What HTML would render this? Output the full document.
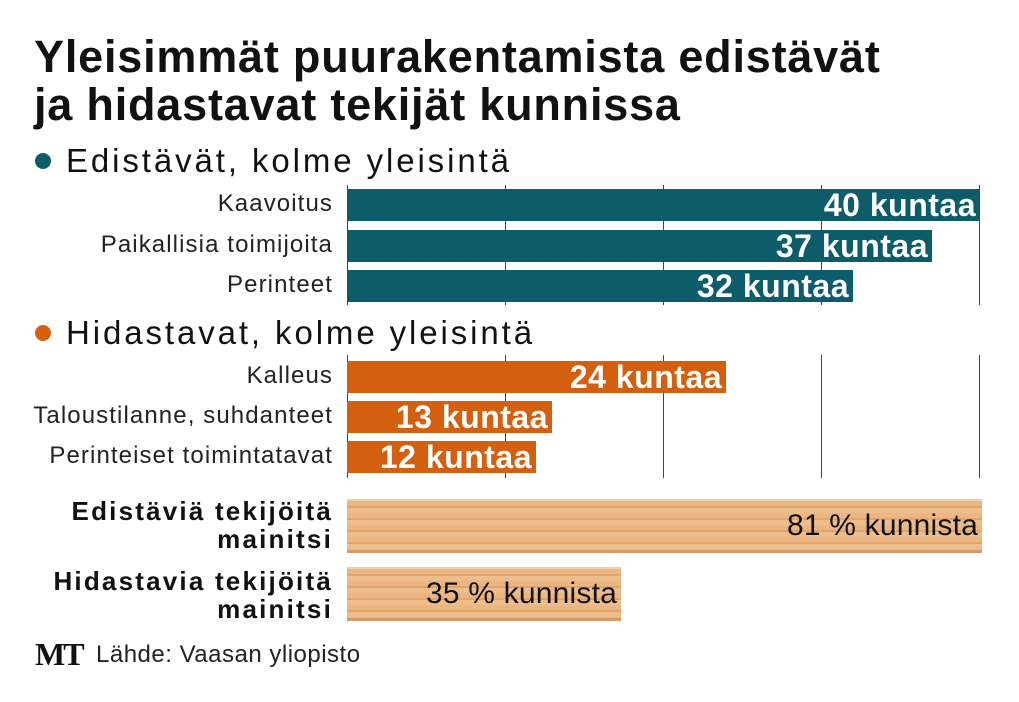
<!DOCTYPE html><html><head><meta charset="utf-8"><style>
body{margin:0;width:1019px;height:702px;background:#fff;font-family:"Liberation Sans",sans-serif;position:relative;overflow:hidden}
.a{position:absolute;white-space:nowrap}
.t{left:34px;font-size:45px;font-weight:bold;color:#111;letter-spacing:0.8px;line-height:50px}
.h{left:66px;font-size:33px;color:#111;letter-spacing:2.9px;line-height:38px}
.dot{position:absolute;width:16px;height:16px;border-radius:50%}
.l{right:686px;font-size:24px;color:#222;text-align:right;letter-spacing:1.1px;line-height:28px}
.bar{position:absolute;left:347px;height:32px}
.v{position:absolute;right:4px;top:-1px;color:#fff;font-weight:bold;font-size:32px;line-height:34px;letter-spacing:0.5px}
.g{position:absolute;width:1px;background:#444}
.wood{position:absolute;left:347px;background:repeating-linear-gradient(180deg,#ebb681 0 5px,#e0a46f 5px 7px,#edbd8c 7px 12px);border-top:2px solid #f1cda6;border-bottom:3px solid #d49a68}
.wl{position:absolute;right:4px;top:8px;font-size:30px;color:#111;letter-spacing:0.2px}
.bl{right:686px;font-size:26px;font-weight:bold;color:#111;text-align:right;line-height:28px;letter-spacing:2.2px}
</style></head><body>
<div class="a t" style="top:32px">Yleisimmät puurakentamista edistävät</div>
<div class="a t" style="top:80px">ja hidastavat tekijät kunnissa</div>
<div class="dot" style="left:35px;top:153px;background:#0d5c6a"></div>
<div class="a h" style="top:142px">Edistävät, kolme yleisintä</div>
<div class="dot" style="left:35px;top:325px;background:#d4600f"></div>
<div class="a h" style="top:314px">Hidastavat, kolme yleisintä</div>

<div class="g" style="left:347px;top:185px;height:120px"></div>
<div class="g" style="left:505px;top:185px;height:120px"></div>
<div class="g" style="left:663px;top:185px;height:120px"></div>
<div class="g" style="left:821px;top:185px;height:120px"></div>
<div class="g" style="left:979px;top:185px;height:120px"></div>
<div class="g" style="left:347px;top:355px;height:123px"></div>
<div class="g" style="left:505px;top:355px;height:123px"></div>
<div class="g" style="left:663px;top:355px;height:123px"></div>
<div class="g" style="left:821px;top:355px;height:123px"></div>
<div class="g" style="left:979px;top:355px;height:123px"></div>

<div class="a l" style="top:190px">Kaavoitus</div>
<div class="a l" style="top:231px">Paikallisia toimijoita</div>
<div class="a l" style="top:271px">Perinteet</div>
<div class="bar" style="top:189px;width:633px;background:#0d5c6a"><span class="v">40 kuntaa</span></div>
<div class="bar" style="top:230px;width:585px;background:#0d5c6a"><span class="v">37 kuntaa</span></div>
<div class="bar" style="top:270px;width:506px;background:#0d5c6a"><span class="v">32 kuntaa</span></div>

<div class="a l" style="top:362px">Kalleus</div>
<div class="a l" style="top:402px">Taloustilanne, suhdanteet</div>
<div class="a l" style="top:442px">Perinteiset toimintatavat</div>
<div class="bar" style="top:361px;width:379px;background:#d4600f"><span class="v">24 kuntaa</span></div>
<div class="bar" style="top:401px;width:205px;background:#d4600f"><span class="v">13 kuntaa</span></div>
<div class="bar" style="top:441px;width:189px;background:#d4600f"><span class="v">12 kuntaa</span></div>

<div class="a bl" style="top:497px">Edistäviä tekijöitä<br>mainitsi</div>
<div class="a bl" style="top:567px">Hidastavia tekijöitä<br>mainitsi</div>
<div class="wood" style="top:499px;width:635px;height:49px"><span class="wl">81 % kunnista</span></div>
<div class="wood" style="top:567px;width:274px;height:49px"><span class="wl">35 % kunnista</span></div>

<div class="a" style="left:35px;top:636px;font-family:'Liberation Serif',serif;font-weight:bold;font-size:32px;color:#111;letter-spacing:-2px">MT</div>
<div class="a" style="left:96px;top:641px;font-size:24px;color:#222;letter-spacing:0.5px">Lähde: Vaasan yliopisto</div>
</body></html>
